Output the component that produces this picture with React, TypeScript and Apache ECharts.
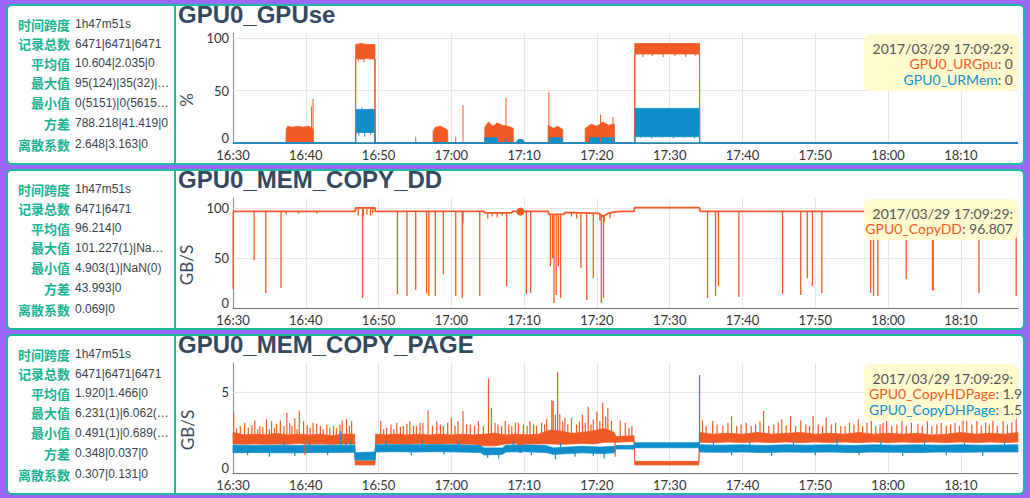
import React, { useEffect, useRef } from "react";
import * as echarts from "echarts";

const ORANGE = "#f15a24";
const BLUE = "#0e8fcc";
const PURPLE = "#9b68f7";
const TEAL = "#1abc9c";

// x axis: minutes since 16:30
const X_MAX = 107.85;
const X_TICKS = [10, 20, 30, 40, 50, 60, 70, 80, 90, 100];

const titles = ["GPU0_GPUse", "GPU0_MEM_COPY_DD", "GPU0_MEM_COPY_PAGE"];
const yNames = ["%", "GB/S", "GB/S"];
const yMax = [105, 110.5, 6.8];
const yInterval = [50, 50, 5];
const yGridValues = [[50, 100], [50, 100], [5]];

const statLabels = ["时间跨度", "记录总数", "平均值", "最大值", "最小值", "方差", "离散系数"];
const stats1 = ["1h47m51s", "6471|6471|6471", "10.604|2.035|0", "95(124)|35(32)|…", "0(5151)|0(5615…", "788.218|41.419|0", "2.648|3.163|0"];
const stats2 = ["1h47m51s", "6471|6471", "96.214|0", "101.227(1)|Na…", "4.903(1)|NaN(0)", "43.993|0", "0.069|0"];
const stats3 = ["1h47m51s", "6471|6471|6471", "1.920|1.466|0", "6.231(1)|6.062(…", "0.491(1)|0.689(…", "0.348|0.037|0", "0.307|0.131|0"];
const rowY = [24, 43.5, 63, 82.5, 102.5, 123, 144];

// tooltip at 17:09:29
const tipT = 39.483;
const tipDate = "2017/03/29 17:09:29:";

// ---------- Panel 1: GPU0_GPUse ----------  [t, lo, hi]
const urGpuBand = [
  [0, 0, 0], [7.29, 0, 0], [7.3, 0, 13], [7.5, 0, 16], [8.2, 0, 15], [8.9, 0, 16], [9.6, 0, 15], [10.3, 0, 16], [10.7, 0, 15], [11.0, 0, 13], [11.01, 0, 0],
  [16.84, 0, 0], [16.85, 81, 94], [17.6, 80, 95], [18.4, 81, 94], [19.5, 80, 94], [19.51, 0, 0],
  [27.49, 0, 0], [27.5, 0, 11], [27.8, 0, 15], [28.5, 0, 16], [29.1, 0, 14], [29.5, 0, 12], [29.51, 0, 0],
  [34.59, 0, 0], [34.6, 0, 15], [35.1, 0, 20], [35.7, 0, 16], [36.3, 0, 19], [37.0, 0, 17], [37.8, 0, 16], [38.5, 0, 14], [38.51, 0, 0],
  [43.29, 0, 0], [43.3, 0, 17], [44.0, 0, 14], [44.6, 0, 16], [45.3, 0, 13], [45.31, 0, 0],
  [48.39, 0, 0], [48.4, 0, 14], [49.2, 0, 18], [50.0, 0, 16], [50.8, 0, 20], [51.6, 0, 17], [52.4, 0, 18], [52.41, 0, 0],
  [55.19, 0, 0], [55.2, 85, 95], [58, 85, 95], [61, 85, 95], [64.1, 85, 95], [64.11, 0, 0],
  [107.85, 0, 0],
];
// [t, from, to]
const urGpuSpikes = [
  [10.8, 0, 35], [11.0, 0, 42], [16.85, 0, 81], [19.5, 0, 80], [25.1, 0, 6], [30.6, 0, 6], [31.6, 0, 36],
  [37.5, 0, 43], [43.4, 0, 49], [50.5, 0, 27], [52.2, 0, 25], [55.2, 0, 85], [64.1, 0, 85],
  [17.2, 81, 78], [18.0, 81, 77], [18.8, 81, 79], [56.3, 85, 82], [57.6, 85, 83], [59.1, 85, 82], [60.7, 85, 83], [62.2, 85, 82], [63.5, 85, 83],
];
const urMemBand = [
  [0, 0, 0], [16.84, 0, 0], [16.85, 10, 32], [19.5, 10, 32], [19.51, 0, 0],
  [34.59, 0, 0], [34.6, 0, 5], [36.3, 0, 5], [36.31, 0, 0],
  [43.39, 0, 0], [43.4, 0, 5], [45.2, 0, 5], [45.21, 0, 0],
  [48.99, 0, 0], [49.0, 0, 5], [52.4, 0, 5], [52.41, 0, 0],
  [55.19, 0, 0], [55.2, 6, 33], [64.1, 6, 33], [64.11, 0, 0],
  [107.85, 0, 0],
];
const urMemBase = [[0, 0], [107.85, 0]];
const urMemSpikes = [
  [16.85, 0, 10], [19.5, 0, 10], [37.5, 0, 5], [55.2, 0, 6], [64.1, 0, 6],
  [17.3, 10, 7], [18.1, 10, 6], [18.9, 10, 8], [17.7, 32, 34], [19.1, 32, 33],
  [56.0, 6, 5], [57.5, 6, 4.5], [59.0, 6, 5], [60.5, 6, 4.5], [62.0, 6, 5], [63.4, 6, 4.5],
];

// ---------- Panel 2: GPU0_MEM_COPY_DD ----------  [t, value]
const copyDDLine = [
  [0, 97], [16.8, 97], [16.85, 100.5], [19.5, 100.5], [19.55, 97], [34.5, 97], [34.6, 95.5], [38.3, 95.5], [38.4, 97],
  [43.3, 97], [43.4, 94], [45.5, 94], [45.6, 96], [50.3, 95], [50.8, 92], [51.5, 95], [52.5, 96.5], [53.5, 97],
  [55.1, 97], [55.2, 100.8], [64.1, 100.8], [64.15, 97], [107.85, 97],
];
const copyDDDips = [
  [0.02, 97, 19], [2.9, 97, 48], [4.5, 97, 15], [6.6, 97, 20], [7.3, 97, 94], [9.0, 97, 95], [11.5, 97, 95],
  [17.2, 100, 93], [17.8, 100, 10], [17.9, 100, 92], [18.4, 100, 94], [18.9, 100, 93], [19.2, 100, 95],
  [22.6, 97, 14], [23.9, 97, 12], [25.1, 97, 18], [26.6, 97, 14.5], [26.9, 97, 12], [27.8, 97, 12], [28.9, 97, 34],
  [30.6, 97, 12], [31.5, 97, 10], [31.6, 97, 85], [33.9, 97, 12], [35.0, 95.5, 90], [35.6, 95.5, 92], [36.3, 95.5, 91],
  [37.0, 95.5, 93], [37.6, 96, 22], [40.3, 97, 14], [40.9, 97, 15],
  [43.6, 94, 42], [43.9, 94, 50], [44.1, 94, 4.9], [44.4, 94, 13], [44.7, 94, 42], [45.0, 94, 10],
  [46.5, 96, 92], [47.2, 95, 90], [47.8, 95, 40], [48.6, 95, 8], [49.5, 95, 30], [50.4, 95, 88], [50.6, 93, 5],
  [50.9, 93, 10], [51.0, 92, 87], [51.8, 95, 90],
  [65.2, 97, 10], [66.3, 97, 12], [66.7, 97, 22], [69.5, 97, 11], [75.5, 97, 14], [78.0, 97, 13], [78.9, 97, 30],
  [79.6, 97, 22], [80.9, 97, 15], [87.6, 97, 15], [88.0, 97, 12], [88.6, 97, 12], [92.5, 97, 29], [96.1, 97, 17.5],
  [96.2, 97, 17.5], [102.5, 97, 15], [107.6, 97, 12],
];

// ---------- Panel 3: GPU0_MEM_COPY_PAGE ----------  [t, lo, hi]
const copyHDBand = [
  [0, 1.8, 2.5], [1.5, 1.78, 2.35], [3, 1.8, 2.4], [4.5, 1.78, 2.35], [6, 1.8, 2.45], [7.5, 1.78, 2.35], [9, 1.82, 2.4],
  [10.5, 1.78, 2.35], [12, 1.8, 2.4], [13.5, 1.78, 2.3], [15, 1.8, 2.4], [16.7, 1.8, 2.4],
  [16.8, 0.5, 0.75], [19.5, 0.5, 0.75],
  [19.6, 1.8, 2.4], [21, 1.82, 2.35], [22.5, 1.8, 2.4], [24, 1.78, 2.35], [25.5, 1.82, 2.4], [27, 1.8, 2.35],
  [28.5, 1.8, 2.4], [30, 1.82, 2.35], [31.5, 1.8, 2.4], [33, 1.78, 2.35], [34.5, 1.68, 2.4], [36, 1.68, 2.45],
  [37.5, 1.8, 2.35], [39, 1.82, 2.4], [40.5, 1.8, 2.35], [42, 1.8, 2.4], [43.5, 1.8, 2.65], [45, 1.78, 2.6],
  [46.5, 1.8, 2.45], [48, 1.82, 2.5], [49.5, 1.8, 2.6], [51, 1.9, 2.75], [52.4, 1.9, 2.5], [52.6, 1.9, 2.25], [55.1, 1.95, 2.3],
  [55.2, 0.5, 0.72], [64.0, 0.5, 0.72],
  [64.1, 1.9, 2.5], [66, 1.88, 2.4], [68, 1.92, 2.45], [70, 1.88, 2.4], [72, 1.92, 2.5], [74, 1.88, 2.4], [76, 1.92, 2.45],
  [78, 1.88, 2.5], [80, 1.92, 2.4], [82, 1.88, 2.45], [84, 1.92, 2.4], [86, 1.88, 2.5], [88, 1.92, 2.4], [90, 1.88, 2.45],
  [92, 1.92, 2.4], [94, 1.88, 2.45], [96, 1.92, 2.35], [98, 1.88, 2.4], [100, 1.92, 2.5], [102, 1.88, 2.4], [104, 1.92, 2.45],
  [106, 1.88, 2.4], [107.85, 1.92, 2.5],
];
const copyHDSpikes = [
  [0.1, 2.4, 3.73], [0.5, 2.3, 2.75], [1.0, 2.3, 2.9], [1.6, 2.3, 3.1], [2.1, 2.3, 2.8], [2.6, 2.3, 2.95], [3.0, 2.3, 3.25], [3.4, 2.3, 2.7], [3.7, 2.3, 2.9],
  [4.1, 2.3, 2.85], [4.6, 2.3, 3.3], [5.0, 2.3, 2.7], [5.3, 2.3, 3.2], [5.7, 2.3, 2.8], [6.0, 2.3, 3.05], [6.5, 2.3, 3.25], [7.0, 2.3, 2.9],
  [7.4, 2.3, 3.73], [7.8, 2.3, 3.1], [8.1, 2.3, 2.9], [8.5, 2.3, 3.38], [8.8, 2.3, 2.7], [9.1, 2.3, 3.87], [9.7, 2.3, 3.2], [9.9, 1.8, 1.1],
  [10.2, 2.3, 2.95], [10.6, 2.3, 2.8], [11.0, 2.3, 3.1], [11.5, 2.3, 3.05], [12.0, 2.3, 2.9], [12.4, 2.3, 2.7],
  [12.9, 2.3, 3.0], [13.3, 2.3, 2.8], [13.8, 2.3, 2.9], [14.2, 2.3, 2.8], [14.7, 2.3, 3.0], [15.0, 2.3, 3.25],
  [15.6, 2.3, 3.32], [16.0, 2.3, 2.9], [16.3, 2.3, 3.2],
  [20.3, 2.3, 3.21], [20.7, 2.3, 2.7], [21.1, 2.3, 2.8], [21.7, 2.3, 3.0], [22.1, 2.3, 2.7], [22.5, 2.3, 3.11], [23.0, 2.3, 2.85], [23.4, 2.3, 2.9],
  [23.9, 2.3, 3.05], [24.3, 2.3, 3.21], [24.8, 2.3, 2.9], [25.2, 2.3, 2.9], [25.7, 2.3, 3.1], [26.1, 2.3, 3.11],
  [26.8, 2.3, 3.87], [27.4, 2.3, 2.9], [28.0, 2.3, 3.21], [28.5, 2.3, 3.0], [28.9, 2.3, 2.9], [29.5, 2.3, 3.1],
  [30.0, 2.3, 3.42], [30.5, 2.3, 2.9], [30.9, 2.3, 3.21], [31.6, 2.3, 3.83], [32.1, 2.3, 3.0], [32.6, 2.3, 3.0],
  [33.2, 2.3, 2.9], [33.7, 2.3, 3.21], [34.4, 2.3, 2.9], [35.1, 2.4, 5.84], [35.5, 2.4, 4.04], [36.0, 2.4, 3.1],
  [36.4, 2.3, 3.0], [36.9, 2.3, 2.9], [37.4, 2.3, 3.21], [37.9, 2.3, 3.0], [38.3, 2.3, 2.9], [38.8, 2.3, 3.1],
  [39.2, 2.3, 3.11], [39.9, 2.3, 3.0], [40.4, 2.3, 2.9], [40.8, 2.3, 3.21], [41.3, 2.3, 3.0], [41.7, 2.3, 2.9],
  [42.4, 2.3, 3.11], [42.8, 2.3, 3.0], [43.1, 2.4, 3.32], [43.8, 2.5, 4.5], [44.0, 2.5, 4.45], [44.3, 2.5, 3.6],
  [44.6, 2.5, 6.25], [44.9, 2.5, 3.63], [45.3, 2.4, 3.2], [45.6, 2.4, 3.42], [46.0, 2.4, 3.0], [46.5, 2.4, 3.4],
  [47.2, 2.4, 3.0], [47.6, 2.4, 3.2], [48.0, 2.4, 3.6], [48.4, 2.4, 3.1], [48.8, 2.4, 4.1], [49.2, 2.4, 3.0],
  [49.5, 2.4, 3.3], [50.0, 2.5, 3.8], [50.4, 2.5, 3.2], [50.8, 2.6, 4.35], [51.2, 2.6, 3.5], [51.5, 2.6, 4.04],
  [52.0, 2.5, 3.21], [52.5, 1.9, 1.0], [53.2, 2.2, 3.25], [53.9, 2.2, 3.11], [54.4, 2.2, 2.8], [54.8, 2.2, 2.9],
  [64.5, 2.4, 3.25], [65.0, 2.4, 2.9], [65.9, 2.4, 3.21], [66.5, 2.4, 3.0], [67.3, 2.4, 2.9], [68.0, 2.4, 3.1],
  [68.5, 2.4, 3.52], [69.2, 2.4, 2.9], [69.8, 2.4, 3.0], [70.5, 2.4, 3.1], [71.2, 2.4, 2.9], [71.8, 2.4, 3.0],
  [72.4, 2.4, 3.2], [72.9, 2.4, 3.83], [73.6, 2.4, 2.9], [74.3, 2.4, 3.0], [74.9, 2.4, 3.1], [75.4, 2.4, 3.32],
  [76.0, 2.4, 2.95], [76.6, 2.4, 3.52], [77.3, 2.4, 2.9], [78.0, 2.4, 3.25], [78.7, 2.4, 3.0], [79.2, 2.4, 2.9],
  [79.7, 2.4, 3.52], [80.4, 2.4, 3.0], [81.0, 2.4, 2.9], [81.5, 2.4, 3.42], [82.2, 2.4, 3.0], [82.8, 2.4, 3.1],
  [83.5, 2.4, 2.9], [84.1, 2.4, 2.9], [84.7, 2.4, 3.1], [85.3, 2.4, 3.0], [85.9, 2.4, 3.32], [86.5, 2.4, 2.9],
  [87.1, 2.4, 3.1], [87.7, 2.4, 3.73], [88.3, 2.4, 2.9], [88.9, 2.4, 3.0], [89.3, 2.4, 3.1], [89.8, 2.4, 3.21],
  [90.5, 2.4, 2.9], [91.2, 2.4, 3.0], [91.9, 2.4, 3.52], [92.5, 2.4, 2.9], [93.2, 2.4, 3.1], [94.1, 2.4, 3.05],
  [94.7, 2.4, 2.9], [95.4, 2.4, 3.2], [96.0, 2.4, 2.9], [96.7, 2.4, 3.0], [97.3, 2.4, 3.1], [98.0, 2.4, 2.9],
  [98.6, 2.4, 3.0], [99.2, 2.4, 3.1], [99.8, 2.4, 2.9], [100.3, 2.4, 3.46], [100.8, 2.4, 3.67], [101.5, 2.4, 3.0],
  [102.2, 2.4, 3.21], [102.8, 2.4, 2.9], [103.4, 2.4, 3.1], [103.9, 2.4, 3.0], [104.4, 2.4, 3.38], [105.0, 2.4, 2.9],
  [105.8, 2.4, 3.21], [106.4, 2.4, 3.0], [107.0, 2.4, 3.1], [107.6, 2.4, 3.52],
];
const copyDHBand = [
  [0, 1.25, 1.72], [3, 1.27, 1.7], [6, 1.25, 1.72], [9, 1.25, 1.7], [12, 1.27, 1.72], [16.7, 1.28, 1.72],
  [16.8, 0.8, 1.25], [19.5, 0.8, 1.3],
  [19.6, 1.3, 1.74], [22, 1.32, 1.75], [25, 1.3, 1.74], [28, 1.32, 1.75], [31, 1.3, 1.74], [34, 1.27, 1.7],
  [34.5, 1.12, 1.55], [37, 1.15, 1.55], [37.5, 1.3, 1.72], [40, 1.32, 1.74], [43, 1.27, 1.7], [44, 1.15, 1.55],
  [46, 1.2, 1.6], [48, 1.25, 1.65], [50.5, 1.2, 1.6], [52.4, 1.25, 1.65], [52.6, 1.48, 1.7], [55.1, 1.48, 1.7],
  [55.2, 1.56, 1.87], [64.0, 1.56, 1.87],
  [64.1, 1.3, 1.74], [67, 1.28, 1.72], [70, 1.3, 1.74], [73, 1.26, 1.7], [76, 1.3, 1.74], [79, 1.28, 1.72],
  [82, 1.3, 1.74], [85, 1.26, 1.7], [88, 1.3, 1.74], [91, 1.28, 1.72], [94, 1.26, 1.74], [97, 1.3, 1.72],
  [100, 1.28, 1.74], [103, 1.3, 1.72], [107.85, 1.3, 1.74],
];
const copyDHSpikes = [
  [0.1, 1.5, 1.8], [2.0, 1.4, 1.1], [5.0, 1.3, 1.0], [7.0, 1.6, 1.9], [8.5, 1.3, 1.05], [10.5, 1.6, 1.95],
  [13.0, 1.3, 1.1], [14.8, 1.6, 2.6], [15.5, 1.6, 1.95], [16.2, 1.6, 2.0], [21.0, 1.7, 2.0], [24.5, 1.35, 1.1],
  [26.0, 1.7, 2.0], [29.0, 1.35, 1.15], [31.0, 1.7, 2.0], [35.0, 1.2, 0.95], [36.5, 1.2, 0.9], [38.5, 1.65, 1.95],
  [41.0, 1.35, 1.1], [44.3, 1.2, 0.85], [45.0, 1.5, 1.85], [47.0, 1.3, 1.0], [49.5, 1.3, 1.05], [51.0, 1.3, 0.9],
  [64.1, 1.85, 6.06], [66.0, 1.7, 2.0], [68.5, 1.3, 1.1], [71.0, 1.7, 1.95], [74.0, 1.3, 1.05], [77.0, 1.7, 2.0],
  [80.0, 1.3, 1.1], [83.0, 1.7, 2.1], [86.0, 1.3, 1.1], [89.0, 1.7, 1.95], [92.0, 1.3, 1.05], [95.0, 1.7, 2.0],
  [98.0, 1.3, 1.1], [100.5, 1.7, 1.9], [103.0, 1.3, 1.05], [106.0, 1.7, 1.95],
];

const fmtTime = (v: number) => {
  const m = Math.round(16 * 60 + 30 + v);
  const h = Math.floor(m / 60) % 24;
  return `${h}:${String(m % 60).padStart(2, "0")}`;
};

function gridLinesSeries(i: number) {
  return {
    type: "line", xAxisIndex: i, yAxisIndex: i, data: [[0, 0]], showSymbol: false, symbol: "none",
    lineStyle: { width: 0, opacity: 0 }, silent: true, z: 1,
    markLine: {
      silent: true, symbol: ["none", "none"], z: 1, label: { show: false }, animation: false,
      lineStyle: { color: "#e6e6e6", type: "solid", width: 1 },
      emphasis: { disabled: true },
      data: [...yGridValues[i].map((v) => ({ yAxis: v })), ...X_TICKS.map((v) => ({ xAxis: v }))],
    },
  };
}

function bandSeries(band: number[][], color: string, i: number) {
  return {
    type: "custom", xAxisIndex: i, yAxisIndex: i, silent: true,
    data: band.map((p) => [p[0], p[2]]),
    encode: { x: 0, y: 1 },
    renderItem: (params: any, api: any) => {
      if (params.dataIndex !== 0) return null;
      const upper = band.map((p) => api.coord([p[0], p[2]]));
      const lower = band.slice().reverse().map((p) => api.coord([p[0], p[1]]));
      return {
        type: "polygon",
        shape: { points: upper.concat(lower) },
        style: { fill: color, stroke: color, lineWidth: 0.8 },
      };
    },
  };
}

function spikeSeries(spikes: number[][], color: string, i: number, width = 1.2) {
  const data: any[] = [];
  spikes.forEach(([t, a, b]) => {
    data.push([t, a], [t, b], [t, "-"]);
  });
  return {
    type: "line", xAxisIndex: i, yAxisIndex: i, data, showSymbol: false, symbol: "none",
    connectNulls: false, silent: true, lineStyle: { color, width },
  };
}

function lineSeries(points: number[][], color: string, i: number, width: number) {
  return {
    type: "line", xAxisIndex: i, yAxisIndex: i, data: points, showSymbol: false, symbol: "none",
    silent: true, lineStyle: { color, width },
  };
}

function dotSeries(v: number, color: string, i: number, half = false) {
  return {
    type: "scatter", xAxisIndex: i, yAxisIndex: i, data: [[tipT, v]], silent: true,
    symbol: half ? "path://M0,10 A10,10 0 0 1 20,10 Z" : "circle",
    symbolSize: half ? [8, 4] : 8,
    symbolOffset: half ? [0, -2] : [0, 0],
    itemStyle: { color, opacity: 1 },
    z: 5,
  };
}

function statGraphics(p: number, values: string[]) {
  const els: any[] = [];
  statLabels.forEach((lab, r) => {
    els.push({
      type: "text", x: 70, y: 165 * p + rowY[r], z: 10,
      style: { text: lab, align: "right", verticalAlign: "middle", fill: "#1ab394", fontSize: 13, fontWeight: "bold", fontFamily: '"Noto Sans CJK SC", sans-serif' },
    });
    els.push({
      type: "text", x: 75, y: 165 * p + rowY[r], z: 10,
      style: { text: values[r], align: "left", verticalAlign: "middle", fill: "#3a3f4b", fontSize: 12, fontFamily: '"Liberation Sans", Arial, sans-serif' },
    });
  });
  return els;
}

const tipFont = { fontSize: 14, fontFamily: "Lato, sans-serif" };

function tipGraphics(p: number, h: number, items: { name: string; color: string; val: string }[], leftAlign = false) {
  const off = 165 * p;
  const els: any[] = [
    { type: "rect", z: 20, shape: { x: 864, y: 34 + off, width: 154, height: h, r: 6 }, style: { fill: "rgba(255,251,204,0.95)" } },
    { type: "text", z: 21, x: 1013, y: 48 + off, style: { text: tipDate, align: "right", verticalAlign: "middle", fill: "#555", ...tipFont } },
  ];
  const ys = [63.5, 79];
  items.forEach((it, k) => {
    els.push({
      type: "text", z: 21, x: leftAlign ? 869 : 1013, y: ys[k] + off,
      style: {
        text: `{n|${it.name}}{v|: ${it.val}}`,
        align: leftAlign ? "left" : "right", verticalAlign: "middle", ...tipFont,
        rich: { n: { fill: it.color, ...tipFont }, v: { fill: "#555", ...tipFont } },
      },
    });
  });
  return els;
}

function buildOption() {
  const grids = [0, 1, 2].map((i) => ({ left: 233, right: 12, top: 33 + 165 * i, height: 110, containLabel: false }));
  const xAxes = [0, 1, 2].map((i) => ({
    type: "value", gridIndex: i, min: 0, max: X_MAX, interval: 10,
    axisLine: { show: true, lineStyle: { color: "#6e6e6e" } },
    axisTick: { show: false }, splitLine: { show: false },
    axisLabel: { margin: 5, fontSize: 13, color: "#333", fontFamily: "Lato, sans-serif", showMaxLabel: false, formatter: fmtTime },
  }));
  const yAxes = [0, 1, 2].map((i) => ({
    type: "value", gridIndex: i, min: 0, max: yMax[i], interval: yInterval[i],
    name: yNames[i], nameLocation: "middle", nameGap: 37,
    nameTextStyle: { fontSize: 17, color: "#3d4b5c", fontFamily: "Lato, sans-serif", padding: [0, 24, 0, 0] },
    axisLine: { show: true, lineStyle: { color: "#8a8a8a" } },
    axisTick: { show: false }, splitLine: { show: false },
    axisLabel: {
      margin: 4, fontSize: 13, color: "#333", fontFamily: "Lato, sans-serif", showMaxLabel: false,
      formatter: (v: number) => (v === 0 ? "{z|0}" : String(v)),
      rich: { z: { fontSize: 13, color: "#333", fontFamily: "Lato, sans-serif", padding: [0, 0, 10, 0] } },
    },
  }));
  const series: any[] = [
    gridLinesSeries(0),
    bandSeries(urGpuBand, ORANGE, 0),
    spikeSeries(urGpuSpikes, ORANGE, 0, 1),
    bandSeries(urMemBand, BLUE, 0),
    lineSeries(urMemBase, BLUE, 0, 1.5),
    spikeSeries(urMemSpikes, BLUE, 0, 1),
    dotSeries(0, ORANGE, 0, true),
    dotSeries(0, BLUE, 0, true),

    gridLinesSeries(1),
    lineSeries(copyDDLine, ORANGE, 1, 1.8),
    spikeSeries(copyDDDips, ORANGE, 1, 1.3),
    dotSeries(96.807, ORANGE, 1),

    gridLinesSeries(2),
    bandSeries(copyHDBand, ORANGE, 2),
    spikeSeries(copyHDSpikes, ORANGE, 2, 1.2),
    bandSeries(copyDHBand, BLUE, 2),
    spikeSeries(copyDHSpikes, BLUE, 2, 1.2),
    dotSeries(1.92, ORANGE, 2),
    dotSeries(1.5, BLUE, 2),
  ];
  const graphic = [
    ...statGraphics(0, stats1),
    ...statGraphics(1, stats2),
    ...statGraphics(2, stats3),
    ...tipGraphics(0, 57, [{ name: "GPU0_URGpu", color: ORANGE, val: "0" }, { name: "GPU0_URMem", color: BLUE, val: "0" }]),
    ...tipGraphics(1, 41, [{ name: "GPU0_CopyDD", color: ORANGE, val: "96.807" }]),
    ...tipGraphics(2, 57, [{ name: "GPU0_CopyHDPage", color: ORANGE, val: "1.9" }, { name: "GPU0_CopyDHPage", color: BLUE, val: "1.5" }], true),
  ];
  return {
    animation: false,
    backgroundColor: "transparent",
    title: titles.map((t, i) => ({
      text: t, left: 178, top: 2 + 165 * i, padding: 0,
      textStyle: { fontSize: 24, fontWeight: "bold", color: "#34495e", fontFamily: '"Liberation Sans", Arial, sans-serif' },
    })),
    grid: grids,
    xAxis: xAxes,
    yAxis: yAxes,
    series,
    graphic,
  };
}

export default function App() {
  const ref = useRef<HTMLDivElement>(null);
  useEffect(() => {
    document.body.style.margin = "0";
    const chart = echarts.init(ref.current!, null, { renderer: "svg" });
    chart.setOption(buildOption() as any);
    return () => chart.dispose();
  }, []);
  return (
    <div style={{ position: "relative", width: 1030, height: 498, background: PURPLE, overflow: "hidden" }}>
      {[0, 1, 2].map((i) => (
        <React.Fragment key={i}>
          <div style={{ position: "absolute", left: 6, top: 4 + 165 * i, width: 1019, height: 161, boxSizing: "border-box", border: `2px solid ${TEAL}`, borderRadius: 6, background: "#fff" }} />
          <div style={{ position: "absolute", left: 174, top: 4 + 165 * i, width: 2, height: 161, background: TEAL }} />
        </React.Fragment>
      ))}
      <div ref={ref} style={{ position: "absolute", left: 0, top: 0, width: 1030, height: 498 }} />
    </div>
  );
}
